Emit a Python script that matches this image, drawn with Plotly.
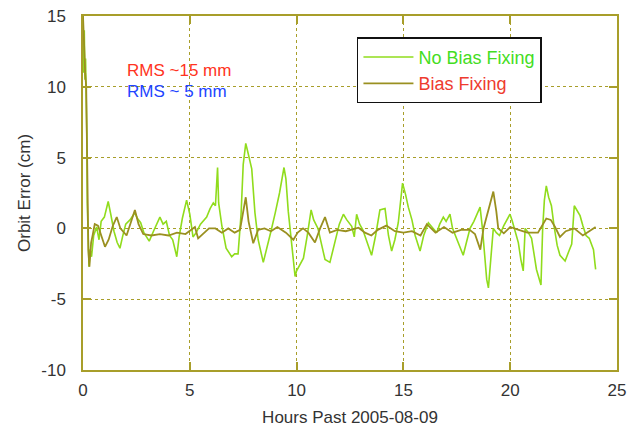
import plotly.graph_objects as go

# No Bias Fixing (hours, cm)
nobias_h = [0.00, 0.03, 0.06, 0.09, 0.12, 0.15, 0.18, 0.20, 0.23, 0.28, 0.33, 0.40, 0.50, 0.64, 0.75, 0.85,
            1.00, 1.10, 1.18, 1.30, 1.45, 1.60, 1.73, 1.85, 2.00, 2.20, 2.43, 2.55, 2.70, 2.85, 3.00, 3.10,
            3.30, 3.50, 3.60, 3.75, 3.90, 4.05, 4.20, 4.39, 4.50, 4.65, 4.85, 5.00, 5.15, 5.30, 5.50, 5.79,
            5.95, 6.10, 6.20, 6.30, 6.35, 6.50, 6.70, 6.96, 7.10, 7.26, 7.40, 7.50, 7.62, 7.70, 7.90, 8.05,
            8.20, 8.44, 8.60, 8.80, 9.00, 9.20, 9.41, 9.50, 9.61, 9.75, 9.93, 10.00, 10.15, 10.32, 10.50,
            10.63, 10.68, 10.80, 11.00, 11.15, 11.33, 11.56, 11.80, 12.00, 12.19, 12.35, 12.58, 12.70, 12.81,
            12.95, 13.10, 13.30, 13.51, 13.70, 13.90, 14.14, 14.30, 14.45, 14.60, 14.76, 14.96, 15.10, 15.23,
            15.40, 15.55, 15.78, 15.95, 16.17, 16.35, 16.56, 16.70, 16.87, 17.00, 17.18, 17.30, 17.50, 17.80,
            17.95, 18.12, 18.30, 18.59, 18.70, 18.80, 18.90, 18.98, 19.10, 19.21, 19.35, 19.50, 19.70, 19.85,
            19.99, 20.10, 20.25, 20.38, 20.50, 20.61, 20.70, 20.85, 21.00, 21.23, 21.44, 21.52, 21.60, 21.69,
            21.80, 21.93, 22.05, 22.20, 22.33, 22.57, 22.75, 22.88, 23.00, 23.15, 23.27, 23.40, 23.55, 23.70,
            23.81, 23.90, 23.97, 24.00]
nobias_v = [15, 11, 14, 10.5, 12, 10, 6.5, 1.8, -1.0, -2.7, -1.5, -2.0, -0.5, 0.1, -0.8, 0.5,
            0.8, 1.5, 1.9, 1.0, -0.2, -1.0, -1.4, -0.6, 0.3, 0.6, 1.1, 0.7, 0.4, -0.3, -0.7, -0.9,
            -0.2, 0.5, 0.8, 0.3, 0.5, -0.5, -0.8, -2.0, -0.6, 0.7, 2.0, 1.0, -0.6, -0.3, 0.3, 0.8,
            1.4, 1.8, 1.6, 4.3, 1.8, 0.2, -1.4, -2.0, -1.8, -1.8, 1.0, 4.5, 6.0, 5.5, 4.2, 1.1,
            -0.8, -2.4, -1.5, -0.2, 1.1, 2.5, 4.3, 3.5, 1.2, -1.0, -3.4, -3.0, -2.6, -2.1, -0.5,
            0.8, 1.3, 0.6, 0.0, -1.0, -2.2, -2.4, -0.8, 0.3, 1.0, 0.6, 0.15, -0.6, 1.0,
            0.3, -0.1, -1.0, -1.9, -0.5, 1.3, 1.4, -0.5, -1.6, -0.8, 0.4, 3.2, 2.4, 1.5,
            0.6, -0.5, -1.6, -0.5, 0.4, 0.1, -0.3, 0.3, 0.8, 0.5, 1.0, 0.0, -0.8, -1.9,
            -1.0, 0.0, 0.5, 1.5, 0.0, -2.0, -3.6, -4.2, -2.0, 0.0, -0.3, -0.5, 0.2, 0.6,
            1.0, 0.5, -0.3, -1.0, -2.2, -3.0, 0.0, -0.3, -0.7, -2.9, -4.0, 0.0, 2.0, 3.0,
            2.2, 1.6, 0.2, -1.2, -1.9, -2.3, -1.6, -1.1, 1.6, 1.2, 0.9, 0.2, -0.5, -0.7,
            -1.1, -1.5, -2.5, -2.9]

# Bias Fixing (hours, cm)
bias_h = [0.00, 0.05, 0.10, 0.15, 0.18, 0.20, 0.25, 0.30, 0.38, 0.45, 0.55, 0.70, 0.85, 1.03, 1.20, 1.40,
          1.58, 1.75, 2.04, 2.20, 2.43, 2.60, 2.82, 3.20, 3.60, 4.00, 4.40, 4.80, 5.00, 5.24, 5.39, 5.60,
          5.90, 6.20, 6.50, 6.80, 7.10, 7.35, 7.50, 7.62, 7.75, 7.97, 8.20, 8.50, 8.80, 9.10, 9.50, 9.85,
          10.05, 10.30, 10.55, 10.86, 11.10, 11.33, 11.56, 11.90, 12.30, 12.60, 12.90, 13.20, 13.50, 13.80,
          14.20, 14.60, 15.00, 15.40, 15.80, 16.10, 16.50, 16.90, 17.30, 17.70, 18.10, 18.35, 18.51, 18.60,
          18.75, 19.00, 19.21, 19.35, 19.44, 19.70, 20.00, 20.40, 20.80, 21.30, 21.50, 21.69, 21.90, 22.10,
          22.33, 22.60, 23.00, 23.40, 23.70, 24.00]
bias_v = [15, 12, 11, 10, 6.5, 1.8, -1.5, -2.7, -1.0, -0.5, 0.3, 0.2, -0.5, -1.3, -0.8, 0.2,
          0.8, 0.0, -0.5, 0.2, 1.3, 0.3, -0.4, -0.5, -0.4, -0.5, -0.3, -0.4, -0.2, 0.1, -0.7, -0.4,
          0.0, 0.0, -0.3, 0.0, -0.3, -0.1, 1.2, 2.2, 0.5, -1.05, -0.1, 0.0, -0.2, 0.1, -0.3, -0.8,
          -0.3, 0.0, -0.3, -1.0, 0.0, 0.8, -0.3, -0.1, -0.2, -0.1, 0.05, -0.3, -0.5, -0.1,
          0.2, -0.2, -0.3, -0.2, -0.5, 0.3, -0.3, 0.1, -0.3, -0.1, -0.1, -0.4, -1.05, -1.5,
          0.0, 1.5, 2.6, 1.2, 0.0, -0.35, 0.1, -0.1, -0.3, -0.3, 0.2, 0.7, 0.6, 0.1,
          -0.6, -0.2, 0.0, -0.5, -0.2, 0.1]

x_ticks = [0, 5, 10, 15, 20, 25]
y_ticks = [-10, -5, 0, 5, 10, 15]

GREEN = "#90dc1c"
OLIVE = "#9a9020"
AXIS = "#a89e2a"
FONT = "Liberation Sans, Arial, sans-serif"
TXT = "#333333"

fig = go.Figure()
fig.add_trace(go.Scatter(x=nobias_h, y=nobias_v, mode="lines",
                         line=dict(color=GREEN, width=1.6),
                         name="<span style='color:#44dd22'>No Bias Fixing</span>"))
fig.add_trace(go.Scatter(x=bias_h, y=bias_v, mode="lines",
                         line=dict(color=OLIVE, width=1.8),
                         name="<span style='color:#ee3b2e'>Bias Fixing</span>"))

axis_common = dict(showline=True, linecolor=AXIS, linewidth=1.5, mirror="ticks",
                   ticks="inside", ticklen=8, tickcolor=AXIS, tickwidth=1.5,
                   showgrid=True, gridcolor=AXIS, griddash="dot", gridwidth=1,
                   zeroline=False, automargin=False, ticklabeloverflow="allow",
                   tickfont=dict(size=17, color=TXT, family=FONT))

fig.update_xaxes(range=[0, 25], tickvals=x_ticks, ticktext=[str(t) for t in x_ticks],
                 title=dict(text="Hours Past 2005-08-09", font=dict(size=17, color=TXT, family=FONT),
                            standoff=12),
                 ticklabelstandoff=4, **axis_common)
fig.update_yaxes(range=[-10, 15], tickvals=y_ticks, ticktext=[str(t) for t in y_ticks],
                 title=dict(text="Orbit Error (cm)", font=dict(size=17, color=TXT, family=FONT),
                            standoff=6),
                 ticklabelstandoff=12, **axis_common)

fig.add_annotation(x=1.95, y=11.12, xref="x", yref="y", text="RMS ~15 mm", showarrow=False,
                   xanchor="left", yanchor="middle", font=dict(size=17, color="#ff3322", family=FONT))
fig.add_annotation(x=1.95, y=9.70, xref="x", yref="y", text="RMS ~ 5 mm", showarrow=False,
                   xanchor="left", yanchor="middle", font=dict(size=17, color="#2244ff", family=FONT))

# page body has an 8px margin, so the figure is sized/offset to land the plot area where the reference has it
fig.update_layout(
    width=628, height=425,
    margin=dict(l=75, r=19, t=8, b=63, autoexpand=False),
    paper_bgcolor="white", plot_bgcolor="white",
    font=dict(family=FONT, size=17, color=TXT),
    legend=dict(x=0.513, y=0.94, xanchor="left", yanchor="top",
                bgcolor="white", bordercolor="#111111", borderwidth=1.5,
                font=dict(size=18, family=FONT), itemwidth=50,
                tracegroupgap=0),
    showlegend=True,
)

fig.write_html("out.html")
